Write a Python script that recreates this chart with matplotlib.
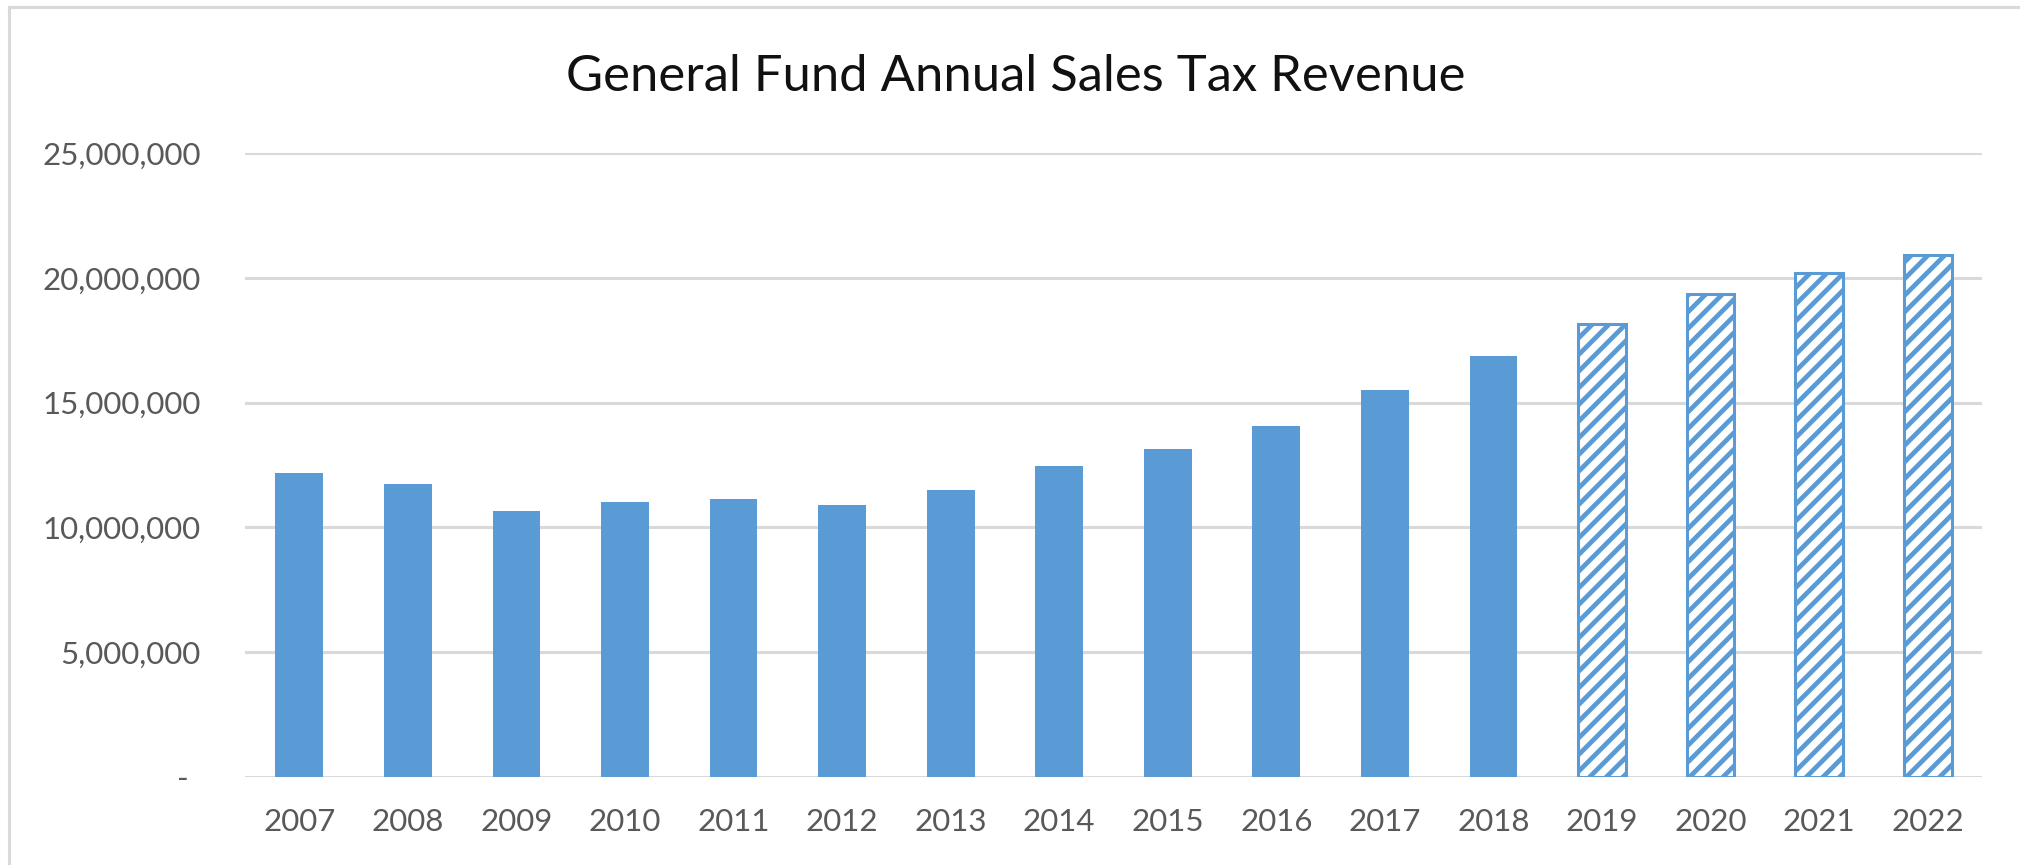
import matplotlib
matplotlib.use("Agg")
import matplotlib.pyplot as plt
from matplotlib.lines import Line2D
from matplotlib.ticker import FixedLocator
from matplotlib.transforms import ScaledTranslation

# ---- data ----
years = ["2007", "2008", "2009", "2010", "2011", "2012", "2013", "2014",
         "2015", "2016", "2017", "2018", "2019", "2020", "2021", "2022"]
actual_years = years[:12]
actual_values = [12190000, 11720000, 10640000, 11000000, 11130000, 10880000,
                 11480000, 12440000, 13160000, 14080000, 15520000, 16850000]
projected_years = years[12:]
projected_values = [18130000, 19340000, 20200000, 20930000]
y_ticks = [0, 5000000, 10000000, 15000000, 20000000, 25000000]
y_tick_labels = ["-", "5,000,000", "10,000,000", "15,000,000", "20,000,000", "25,000,000"]
title = "General Fund Annual Sales Tax Revenue"

# ---- style ----
BLUE = "#5B9BD5"
GRID = "#D9D9D9"
TXT = "#595959"
plt.rcParams["font.family"] = ["Lato", "DejaVu Sans"]
plt.rcParams["hatch.linewidth"] = 3.4

W, H, DPI = 2020, 865, 100
fig = plt.figure(figsize=(W / DPI, H / DPI), dpi=DPI)
ax = fig.add_axes([245 / W, 1 - 777 / H, (1982 - 245) / W, (777 - 153) / H])

xpos = {y: i for i, y in enumerate(years)}
bw = 0.44
ax.bar([xpos[y] for y in actual_years], actual_values, width=bw,
       color=BLUE, edgecolor="none", zorder=3)
ax.bar([xpos[y] for y in projected_years], projected_values, width=bw,
       facecolor="white", edgecolor=BLUE, hatch="//", linewidth=2.2, zorder=3)

ax.set_xlim(-0.5, len(years) - 0.5)
ax.set_ylim(0, 25000000)
ax.set_xticks(range(len(years)))
ax.set_xticklabels(years)
ax.yaxis.set_major_locator(FixedLocator(y_ticks))
ax.set_yticklabels(y_tick_labels)

for s in ax.spines.values():
    s.set_visible(False)
ax.grid(axis="y", color=GRID, linewidth=2.2, zorder=0)
ax.set_axisbelow(True)
ax.tick_params(axis="both", length=0, labelsize=22.5, labelcolor=TXT)
ax.tick_params(axis="y", pad=32)
ax.tick_params(axis="x", pad=22)

# the zero label sits a little left of the digit column (accounting format)
zero_lbl = ax.get_yticklabels()[0]
zero_lbl.set_transform(zero_lbl.get_transform() +
                       ScaledTranslation(-12 / DPI, 0, fig.dpi_scale_trans))

fig.text(1016 / W, 1 - 77 / H, title, ha="center", va="center",
         fontsize=36.5, color="#111111")

# chart-area outline (left and top edges visible)
fig.add_artist(Line2D([9 / W, 9 / W], [0, 1 - 7 / H], transform=fig.transFigure,
                      color=GRID, linewidth=2.2))
fig.add_artist(Line2D([9 / W, 1], [1 - 7 / H, 1 - 7 / H], transform=fig.transFigure,
                      color=GRID, linewidth=2.2))

fig.savefig("out.png", dpi=DPI, facecolor="white")
